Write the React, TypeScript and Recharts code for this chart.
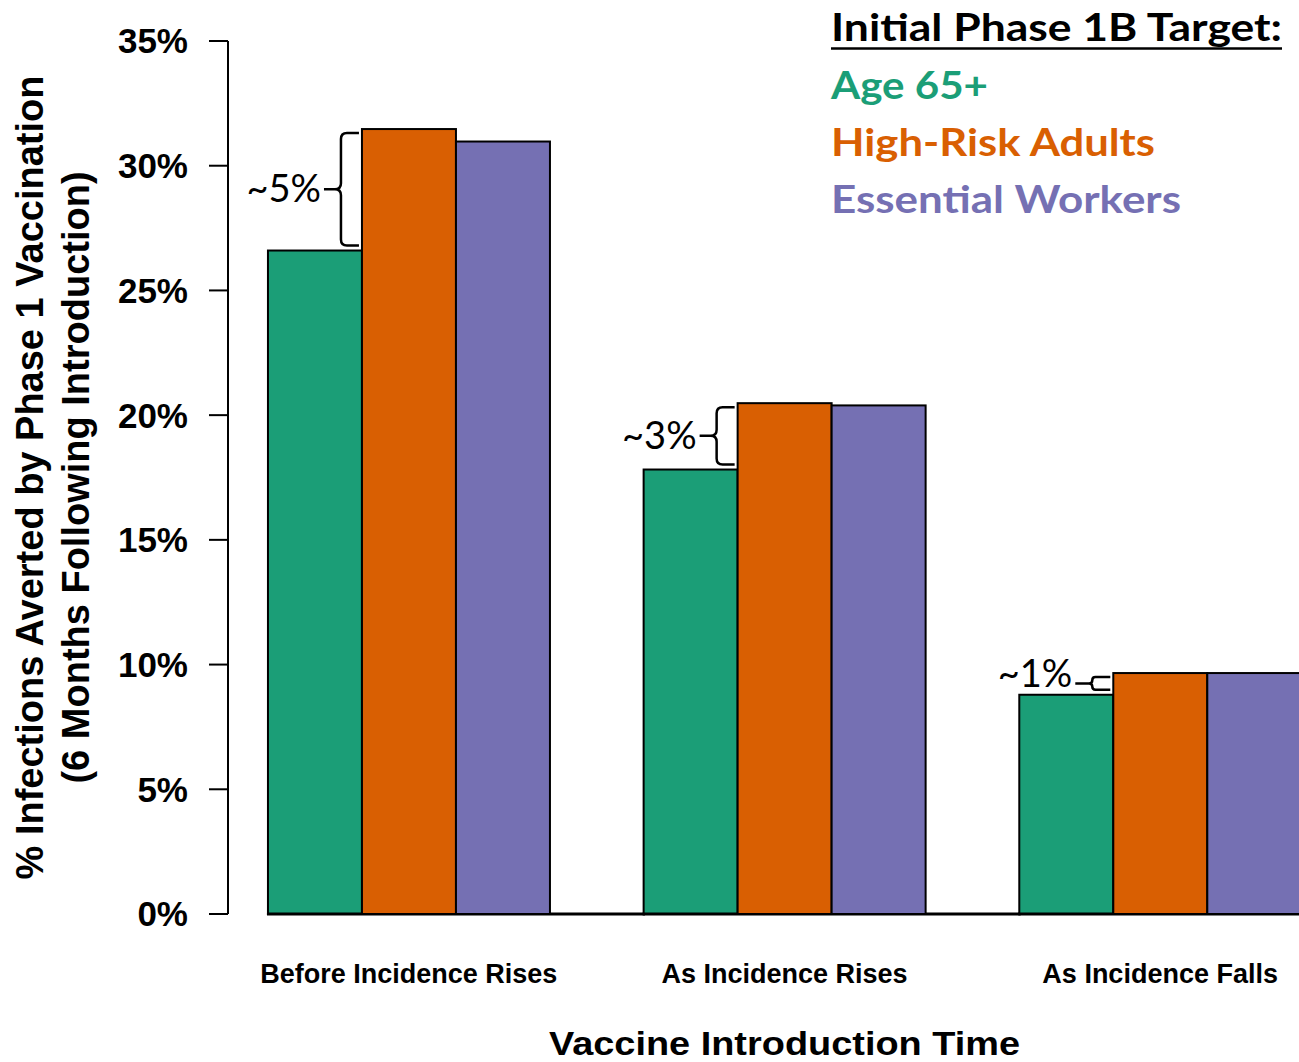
import React from 'react';
import { BarChart, Bar, XAxis, YAxis, Legend } from 'recharts';

// ---------- data ----------
const categories = ['Before Incidence Rises', 'As Incidence Rises', 'As Incidence Falls'];
const age65 = [26.6, 17.82, 8.79];
const highRisk = [31.47, 20.48, 9.66];
const essentialWorkers = [30.97, 20.39, 9.66];
const gapLabels = ['~5%', '~3%', '~1%'];
const yTicks = [0, 5, 10, 15, 20, 25, 30, 35];
const seriesNames = ['Age 65+', 'High-Risk Adults', 'Essential Workers'];
const legendTitle = 'Initial Phase 1B Target:';
const xTitle = 'Vaccine Introduction Time';
const yTitleLines = ['% Infections Averted by Phase 1 Vaccination', '(6 Months Following Introduction)'];

const data = categories.map((c, i) => ({
  category: c,
  age65: age65[i],
  highRisk: highRisk[i],
  essential: essentialWorkers[i],
  gap: gapLabels[i],
}));

// ---------- styles ----------
const GREEN = '#1B9E77';
const ORANGE = '#D95F02';
const PURPLE = '#7570B3';
const ARIAL = '"Liberation Sans", Arial, sans-serif';
const CAL = 'Lato, "Open Sans", sans-serif';
const LEGEND_TEXT_WIDTHS = [157, 324, 350];

const GreenShape = (p: any) => {
  const { x, y, width, height, fill } = p;
  const bottom = y + height;
  return (
    <g>
      <rect x={x} y={y} width={width} height={height} fill={fill} stroke="#000" strokeWidth={2} />
      <line x1={x - 1} x2={x + width * 4 + 1} y1={bottom} y2={bottom} stroke="#000" strokeWidth={3} />
    </g>
  );
};

const OrangeShape = (p: any) => {
  const { x, y, width, height, fill, payload } = p;
  const bottom = y + height;
  const k = height / payload.highRisk;
  const gTop = bottom - payload.age65 * k;
  const top = y + 4;
  const bot = gTop - 5;
  const xv = x - 21;
  const xr = x - 3;
  const xt = xv - 17;
  const r = Math.min(6, (bot - top) / 4);
  const mid = (top + bot) / 2;
  const d = `M${xr},${top} L${xv + r},${top} Q${xv},${top} ${xv},${top + r} L${xv},${mid - r} Q${xv},${mid} ${xv - r},${mid} L${xt},${mid} M${xv - r},${mid} Q${xv},${mid} ${xv},${mid + r} L${xv},${bot - r} Q${xv},${bot} ${xv + r},${bot} L${xr},${bot}`;
  const textY = Math.min(mid + 13, gTop - 8);
  return (
    <g>
      <rect x={x} y={y} width={width} height={height} fill={fill} stroke="#000" strokeWidth={2} />
      <path d={d} fill="none" stroke="#000" strokeWidth={2.5} />
      <text x={xt - 3} y={textY} textAnchor="end" fontSize={38} fontFamily={CAL} fill="#000">
        {payload.gap}
      </text>
    </g>
  );
};

const PlainShape = (p: any) => {
  const { x, y, width, height, fill } = p;
  return <rect x={x} y={y} width={width} height={height} fill={fill} stroke="#000" strokeWidth={2} />;
};

const XTick = (p: any) => {
  const { x, y, payload } = p;
  return (
    <text x={x} y={y + 69} textAnchor="middle" fontSize={27} fontWeight="bold" fontFamily={ARIAL} fill="#000">
      {payload.value}
    </text>
  );
};

const XTitle = (p: any) => {
  const vb = p.viewBox || { x: 228, y: 914, width: 1120, height: 148 };
  const cx = vb.x - 7 + (vb.width + 7) / 2;
  return (
    <text x={cx} y={1055} textAnchor="middle" fontSize={34} fontWeight="bold" fontFamily={ARIAL} fill="#000"
      textLength={471} lengthAdjust="spacingAndGlyphs">
      {xTitle}
    </text>
  );
};

const YTitle = (p: any) => {
  const vb = p.viewBox || { x: 0, y: 41, width: 228, height: 873 };
  const cy = vb.y + vb.height / 2;
  const xs = [43, 89];
  return (
    <g>
      {yTitleLines.map((t, i) => (
        <text key={i} x={xs[i]} y={cy} transform={`rotate(-90, ${xs[i]}, ${cy})`} textAnchor="middle"
          fontSize={38} fontWeight="bold" fontFamily={ARIAL} fill="#000">
          {t}
        </text>
      ))}
    </g>
  );
};

const LegendContent = (props: any) => {
  const payload = [...(props.payload || [])].sort(
    (a: any, b: any) => seriesNames.indexOf(a.value) - seriesNames.indexOf(b.value)
  );
  return (
    <svg width={470} height={230} style={{ display: 'block', overflow: 'visible' }}>
      <text x={2} y={41} fontFamily={CAL} fontWeight="bold" fontSize={38} fill="#000" textLength={451}
        lengthAdjust="spacingAndGlyphs">
        {legendTitle}
      </text>
      <line x1={2} x2={453} y1={48.5} y2={48.5} stroke="#000" strokeWidth={2.5} />
      {payload.map((e: any, i: number) => (
        <text key={i} x={2} y={99 + i * 57} fontFamily={CAL} fontWeight="bold" fontSize={38} fill={e.color}
          textLength={LEGEND_TEXT_WIDTHS[i]} lengthAdjust="spacingAndGlyphs">
          {e.value}
        </text>
      ))}
    </svg>
  );
};

export default function App() {
  return (
    <div style={{ position: 'fixed', left: 0, top: 0, width: 1299, height: 1062, overflow: 'hidden', background: '#fff' }}>
      <BarChart
        width={1360}
        height={1062}
        data={data}
        margin={{ top: 41, right: 12, bottom: 0, left: 0 }}
        barCategoryGap="12.5%"
        barGap={0}
      >
        <XAxis
          dataKey="category"
          type="category"
          interval={0}
          height={148}
          padding={{ left: -7, right: 0 }}
          axisLine={false}
          tickLine={false}
          tickSize={0}
          tickMargin={0}
          tick={<XTick />}
          label={{ content: <XTitle /> }}
        />
        <YAxis
          type="number"
          domain={[0, 35]}
          ticks={yTicks}
          interval={0}
          width={228}
          tickFormatter={(v: number) => `${v}%`}
          axisLine={{ stroke: '#000', strokeWidth: 2 }}
          tickLine={{ stroke: '#000', strokeWidth: 2 }}
          tickSize={19}
          tickMargin={21}
          tick={{ fontSize: 35, fontWeight: 'bold', fill: '#000', fontFamily: ARIAL }}
          label={{ content: <YTitle /> }}
        />
        <Legend
          layout="vertical"
          align="center"
          verticalAlign="middle"
          wrapperStyle={{ left: 829, top: 0, width: 470, height: 230 }}
          content={<LegendContent />}
        />
        <Bar dataKey="age65" name={seriesNames[0]} fill={GREEN} shape={GreenShape} isAnimationActive={false} />
        <Bar dataKey="highRisk" name={seriesNames[1]} fill={ORANGE} shape={OrangeShape} isAnimationActive={false} />
        <Bar dataKey="essential" name={seriesNames[2]} fill={PURPLE} shape={PlainShape} isAnimationActive={false} />
      </BarChart>
    </div>
  );
}
